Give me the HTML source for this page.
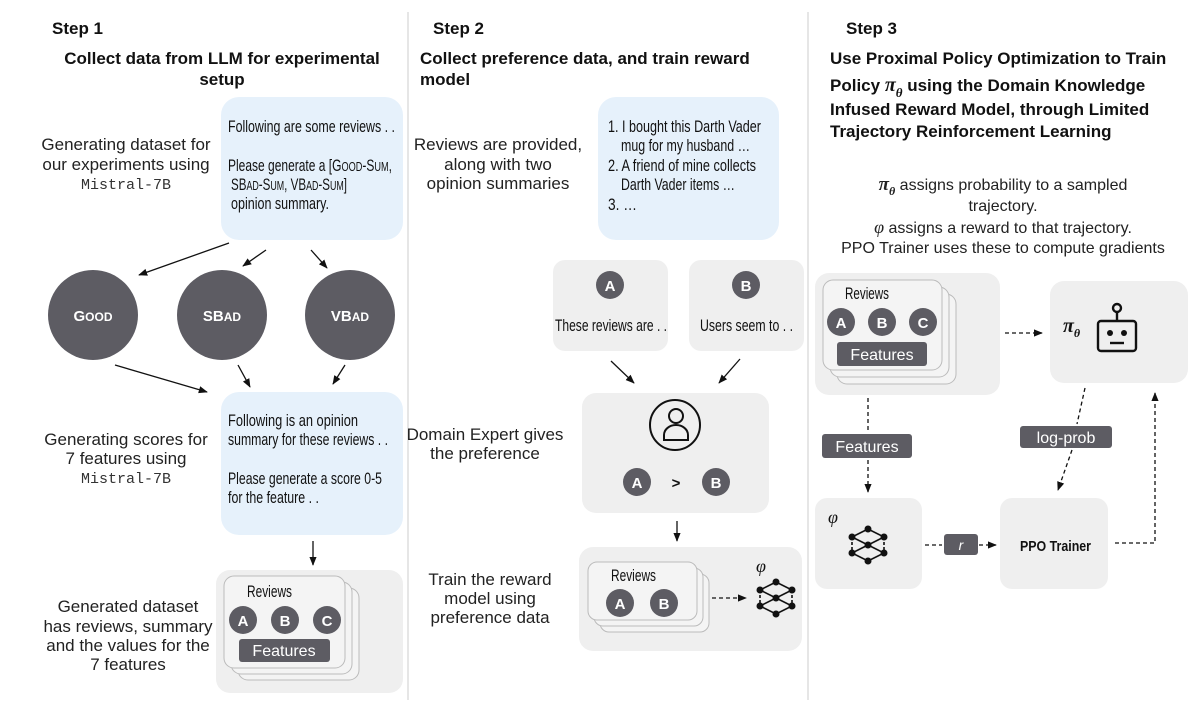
<!DOCTYPE html>
<html><head><meta charset="utf-8"><style>
html,body{margin:0;padding:0;background:#fff;}
svg{display:block;}
.b{font-family:"Liberation Sans",sans-serif;font-weight:bold;fill:#111;}
.t{font-family:"Liberation Sans",sans-serif;fill:#222;}
.n{font-family:"Liberation Sans",sans-serif;fill:#111;}
.m{font-family:"Liberation Mono",monospace;fill:#333;}
.cw{font-family:"Liberation Sans",sans-serif;font-weight:bold;fill:#fff;}
</style></head><body>
<svg width="1200" height="707" viewBox="0 0 1200 707" xmlns="http://www.w3.org/2000/svg">
<defs>
<marker id="ah" viewBox="0 0 10 10" refX="9" refY="5" markerWidth="7" markerHeight="7" orient="auto"><path d="M0,1 L10,5 L0,9 z" fill="#111"/></marker>
<g id="net">
<g stroke="#111" stroke-width="1.6" fill="none">
<path d="M0,-16 L-16,-8 L0,0 L-16,8 L0,16 L16,8 L0,0 L16,-8 Z"/>
<path d="M-16,-8 L-16,8 M16,-8 L16,8" stroke-dasharray="3,2"/>
</g>
<g fill="#111"><circle cx="0" cy="-16" r="3.5"/><circle cx="-16" cy="-8" r="3.5"/><circle cx="16" cy="-8" r="3.5"/><circle cx="0" cy="0" r="3.5"/><circle cx="-16" cy="8" r="3.5"/><circle cx="16" cy="8" r="3.5"/><circle cx="0" cy="16" r="3.5"/></g>
</g>
</defs>
<line x1="408" y1="12" x2="408" y2="700" stroke="#ddd" stroke-width="1.5"/>
<line x1="808" y1="12" x2="808" y2="700" stroke="#ddd" stroke-width="1.5"/>

<!-- STEP 1 -->
<text class="b" x="52" y="34" font-size="17">Step 1</text>
<text class="b" x="222" y="64" font-size="17" text-anchor="middle">Collect data from LLM for experimental</text>
<text class="b" x="222" y="85" font-size="17" text-anchor="middle">setup</text>
<rect x="221" y="97" width="182" height="143" rx="18" fill="#e6f1fb"/>
<g class="n" font-size="17">
<text x="228" y="132" textLength="167" lengthAdjust="spacingAndGlyphs">Following are some reviews . .</text>
<text x="228" y="171" textLength="164" lengthAdjust="spacingAndGlyphs">Please generate a [G<tspan font-size="13">OOD</tspan>-S<tspan font-size="13">UM</tspan>,</text>
<text x="231" y="190" textLength="116" lengthAdjust="spacingAndGlyphs">SB<tspan font-size="13">AD</tspan>-S<tspan font-size="13">UM</tspan>, VB<tspan font-size="13">AD</tspan>-S<tspan font-size="13">UM</tspan>]</text>
<text x="231" y="209" textLength="98" lengthAdjust="spacingAndGlyphs">opinion summary.</text></g>
<g class="t" font-size="17" text-anchor="middle"><text x="126" y="150">Generating dataset for</text><text x="126" y="170">our experiments using</text></g>
<text class="m" x="126" y="189" font-size="15" text-anchor="middle">Mistral-7B</text>
<g fill="#5d5c63"><circle cx="93" cy="315" r="45"/><circle cx="222" cy="315" r="45"/><circle cx="350" cy="315" r="45"/></g>
<g class="cw" font-size="15" text-anchor="middle"><text x="93" y="321">G<tspan font-size="12">OOD</tspan></text><text x="222" y="321">SB<tspan font-size="12">AD</tspan></text><text x="350" y="321">VB<tspan font-size="12">AD</tspan></text></g>
<g stroke="#111" stroke-width="1.3" marker-end="url(#ah)">
<line x1="229" y1="243" x2="139" y2="275"/><line x1="266" y1="250" x2="243" y2="266"/><line x1="311" y1="250" x2="327" y2="268"/>
<line x1="115" y1="365" x2="207" y2="392"/><line x1="238" y1="365" x2="250" y2="387"/><line x1="345" y1="365" x2="333" y2="384"/>
<line x1="313" y1="541" x2="313" y2="565"/></g>
<rect x="221" y="392" width="182" height="143" rx="18" fill="#e6f1fb"/>
<g class="n" font-size="17">
<text x="228" y="426" textLength="130" lengthAdjust="spacingAndGlyphs">Following is an opinion</text>
<text x="228" y="445" textLength="160" lengthAdjust="spacingAndGlyphs">summary for these reviews . .</text>
<text x="228" y="484" textLength="154" lengthAdjust="spacingAndGlyphs">Please generate a score 0-5</text>
<text x="228" y="503" textLength="91" lengthAdjust="spacingAndGlyphs">for the feature . .</text></g>
<g class="t" font-size="17" text-anchor="middle"><text x="126" y="445">Generating scores for</text><text x="126" y="464">7 features using</text></g>
<text class="m" x="126" y="483" font-size="15" text-anchor="middle">Mistral-7B</text>
<rect x="216" y="570" width="187" height="123" rx="14" fill="#efefef"/>
<g stroke="#bbb" stroke-width="1" fill="#f4f4f4"><rect x="238" y="588" width="121" height="92" rx="10"/><rect x="231" y="582" width="121" height="92" rx="10"/><rect x="224" y="576" width="121" height="92" rx="10"/></g>
<text class="n" x="247" y="597" font-size="17" textLength="45" lengthAdjust="spacingAndGlyphs">Reviews</text>
<g fill="#5d5c63"><circle cx="243" cy="620" r="14"/><circle cx="285" cy="620" r="14"/><circle cx="327" cy="620" r="14"/><rect x="239" y="639" width="91" height="23" rx="3"/></g>
<g class="cw" font-size="15" text-anchor="middle"><text x="243" y="626">A</text><text x="285" y="626">B</text><text x="327" y="626">C</text></g>
<text x="284" y="656" font-size="16" text-anchor="middle" font-family="Liberation Sans,sans-serif" fill="#fff">Features</text>
<g class="t" font-size="17" text-anchor="middle"><text x="128" y="612">Generated dataset</text><text x="128" y="632">has reviews, summary</text><text x="128" y="651">and the values for the</text><text x="128" y="670">7 features</text></g>

<!-- STEP 2 -->
<text class="b" x="433" y="34" font-size="17">Step 2</text>
<text class="b" x="420" y="64" font-size="17">Collect preference data, and train reward</text>
<text class="b" x="420" y="85" font-size="17">model</text>
<rect x="598" y="97" width="181" height="143" rx="18" fill="#e6f1fb"/>
<g class="n" font-size="17">
<text x="608" y="132" textLength="153" lengthAdjust="spacingAndGlyphs">1. I bought this Darth Vader</text>
<text x="621" y="151" textLength="129" lengthAdjust="spacingAndGlyphs">mug for my husband …</text>
<text x="608" y="171" textLength="148" lengthAdjust="spacingAndGlyphs">2. A friend of mine collects</text>
<text x="621" y="190" textLength="114" lengthAdjust="spacingAndGlyphs">Darth Vader items …</text>
<text x="608" y="210" textLength="29" lengthAdjust="spacingAndGlyphs">3. …</text></g>
<g class="t" font-size="17" text-anchor="middle"><text x="498" y="150">Reviews are provided,</text><text x="498" y="170">along with two</text><text x="498" y="189">opinion summaries</text></g>
<rect x="553" y="260" width="115" height="91" rx="12" fill="#efefef"/>
<rect x="689" y="260" width="115" height="91" rx="12" fill="#efefef"/>
<g fill="#5d5c63"><circle cx="610" cy="285" r="14"/><circle cx="746" cy="285" r="14"/></g>
<g class="cw" font-size="15" text-anchor="middle"><text x="610" y="291">A</text><text x="746" y="291">B</text></g>
<g class="n" font-size="17">
<text x="555" y="331" textLength="112" lengthAdjust="spacingAndGlyphs">These reviews are . .</text>
<text x="700" y="331" textLength="93" lengthAdjust="spacingAndGlyphs">Users seem to  . .</text></g>
<g stroke="#111" stroke-width="1.3" marker-end="url(#ah)"><line x1="611" y1="361" x2="634" y2="383"/><line x1="740" y1="359" x2="719" y2="383"/><line x1="677" y1="521" x2="677" y2="541"/></g>
<rect x="582" y="393" width="187" height="120" rx="14" fill="#efefef"/>
<circle cx="675" cy="425" r="25" fill="none" stroke="#111" stroke-width="2"/>
<circle cx="676" cy="416" r="7" fill="none" stroke="#111" stroke-width="2"/>
<path d="M664,440 v-5 a12,10 0 0 1 24,0 v5 z" fill="none" stroke="#111" stroke-width="2"/>
<g fill="#5d5c63"><circle cx="637" cy="482" r="14"/><circle cx="716" cy="482" r="14"/></g>
<g class="cw" font-size="15" text-anchor="middle"><text x="637" y="488">A</text><text x="716" y="488">B</text><text x="676" y="488" fill="#111">&gt;</text></g>
<g class="t" font-size="17" text-anchor="middle"><text x="485" y="440">Domain Expert gives</text><text x="485" y="459">the preference</text></g>
<rect x="579" y="547" width="223" height="104" rx="14" fill="#efefef"/>
<g stroke="#bbb" stroke-width="1" fill="#f4f4f4"><rect x="600" y="574" width="109" height="58" rx="9"/><rect x="594" y="568" width="109" height="58" rx="9"/><rect x="588" y="562" width="109" height="58" rx="9"/></g>
<text class="n" x="611" y="581" font-size="17" textLength="45" lengthAdjust="spacingAndGlyphs">Reviews</text>
<g fill="#5d5c63"><circle cx="620" cy="603" r="14"/><circle cx="664" cy="603" r="14"/></g>
<g class="cw" font-size="15" text-anchor="middle"><text x="620" y="609">A</text><text x="664" y="609">B</text></g>
<line x1="712" y1="598" x2="746" y2="598" stroke="#111" stroke-width="1.3" stroke-dasharray="4,3" marker-end="url(#ah)"/>
<use href="#net" x="776" y="598"/>
<text x="756" y="572" font-size="18" font-style="italic" font-family="Liberation Serif,serif" fill="#111">φ</text>
<g class="t" font-size="17" text-anchor="middle"><text x="490" y="585">Train the reward</text><text x="490" y="604">model using</text><text x="490" y="623">preference data</text></g>

<!-- STEP 3 -->
<text class="b" x="846" y="34" font-size="17">Step 3</text>
<g class="b" font-size="17"><text x="830" y="64">Use Proximal Policy Optimization to Train</text>
<text x="830" y="91">Policy <tspan font-family="Liberation Serif,serif" font-style="italic" font-size="20">π</tspan><tspan font-family="Liberation Serif,serif" font-style="italic" font-size="13" dy="6">θ</tspan><tspan dy="-6"> using the Domain Knowledge</tspan></text>
<text x="830" y="115">Infused Reward Model, through Limited</text>
<text x="830" y="137">Trajectory Reinforcement Learning</text></g>
<g class="t" font-size="16" text-anchor="middle">
<text x="1003" y="190"><tspan font-family="Liberation Serif,serif" font-style="italic" font-weight="bold" font-size="19">π</tspan><tspan font-family="Liberation Serif,serif" font-style="italic" font-weight="bold" font-size="12" dy="5">θ</tspan><tspan dy="-5"> assigns probability to a sampled</tspan></text>
<text x="1003" y="211">trajectory.</text>
<text x="1003" y="233"><tspan font-family="Liberation Serif,serif" font-style="italic" font-size="18">φ</tspan> assigns a reward to that trajectory.</text>
<text x="1003" y="253">PPO Trainer uses these to compute gradients</text></g>
<rect x="815" y="273" width="185" height="122" rx="14" fill="#efefef"/>
<g stroke="#bbb" stroke-width="1" fill="#f4f4f4"><rect x="837" y="294" width="119" height="90" rx="10"/><rect x="830" y="287" width="119" height="90" rx="10"/><rect x="823" y="280" width="119" height="90" rx="10"/></g>
<text class="n" x="845" y="299" font-size="17" textLength="44" lengthAdjust="spacingAndGlyphs">Reviews</text>
<g fill="#5d5c63"><circle cx="841" cy="322" r="14"/><circle cx="882" cy="322" r="14"/><circle cx="923" cy="322" r="14"/><rect x="837" y="342" width="90" height="24" rx="3"/></g>
<g class="cw" font-size="15" text-anchor="middle"><text x="841" y="328">A</text><text x="882" y="328">B</text><text x="923" y="328">C</text></g>
<text x="882" y="360" font-size="16" text-anchor="middle" font-family="Liberation Sans,sans-serif" fill="#fff">Features</text>
<rect x="1050" y="281" width="138" height="102" rx="14" fill="#efefef"/>
<text x="1063" y="332" font-family="Liberation Serif,serif" font-style="italic" font-weight="bold" font-size="20" fill="#111">π<tspan font-size="12" dy="5">θ</tspan></text>
<g stroke="#111" stroke-width="2.4" fill="none"><circle cx="1117" cy="308" r="4"/><line x1="1117" y1="312" x2="1117" y2="321"/><rect x="1098" y="321" width="38" height="30" rx="3"/><line x1="1110" y1="343" x2="1124" y2="343"/></g>
<g fill="#111"><circle cx="1110" cy="333" r="3"/><circle cx="1124" cy="333" r="3"/></g>
<rect x="815" y="498" width="107" height="91" rx="12" fill="#efefef"/>
<rect x="1000" y="498" width="108" height="91" rx="12" fill="#efefef"/>
<text x="1020" y="551" font-size="15" class="b" textLength="71" lengthAdjust="spacingAndGlyphs">PPO Trainer</text>
<use href="#net" x="868" y="545"/>
<text x="828" y="523" font-size="18" font-style="italic" font-family="Liberation Serif,serif" fill="#111">φ</text>
<g stroke="#111" stroke-width="1.3" stroke-dasharray="4,3" fill="none">
<line x1="1005" y1="333" x2="1042" y2="333" marker-end="url(#ah)"/>
<line x1="868" y1="398" x2="868" y2="432"/>
<line x1="868" y1="460" x2="868" y2="492" marker-end="url(#ah)"/>
<line x1="1085" y1="388" x2="1077" y2="424"/>
<line x1="1072" y1="450" x2="1058" y2="490" marker-end="url(#ah)"/>
<line x1="925" y1="545" x2="942" y2="545"/>
<line x1="979" y1="545" x2="996" y2="545" marker-end="url(#ah)"/>
<polyline points="1115,543 1155,543 1155,393" marker-end="url(#ah)"/>
</g>
<g fill="#5d5c63"><rect x="822" y="434" width="90" height="24" rx="3"/><rect x="1020" y="426" width="92" height="22" rx="3"/><rect x="944" y="534" width="34" height="21" rx="3"/></g>
<g font-family="Liberation Sans,sans-serif" fill="#fff" text-anchor="middle"><text x="867" y="452" font-size="16">Features</text><text x="1066" y="443" font-size="16">log-prob</text><text x="961" y="550" font-size="14" font-style="italic">r</text></g>
</svg>
</body></html>
